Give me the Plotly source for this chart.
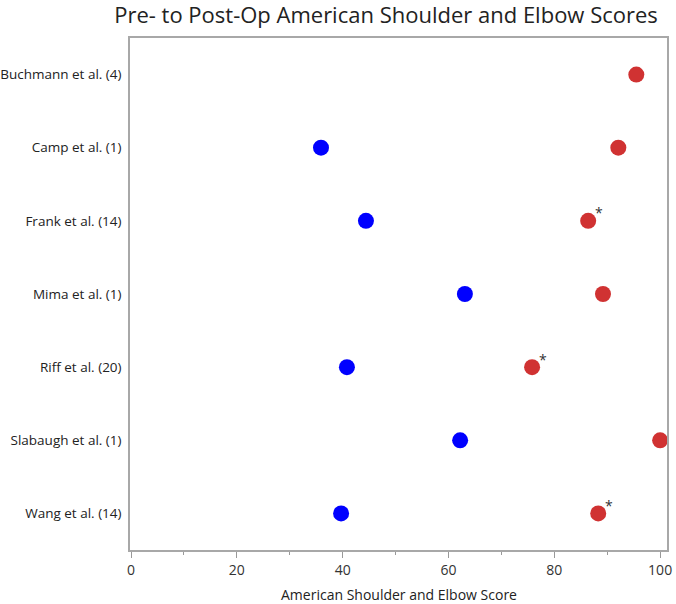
import plotly.graph_objects as go

studies = ["Buchmann et al. (4)", "Camp et al. (1)", "Frank et al. (14)", "Mima et al. (1)",
           "Riff et al. (20)", "Slabaugh et al. (1)", "Wang et al. (14)"]
pre_scores = [None, 35.9, 44.4, 63.1, 40.8, 62.2, 39.7]
post_scores = [95.5, 92.1, 86.4, 89.2, 75.8, 100.0, 88.3]
significant = [False, False, True, False, True, False, True]
x_ticks = [0, 20, 40, 60, 80, 100]

fig = go.Figure()
fig.add_trace(go.Scatter(x=pre_scores, y=studies, mode="markers", name="Pre-Op",
                         marker=dict(color="#0000ff", size=16), cliponaxis=False))
fig.add_trace(go.Scatter(x=post_scores, y=studies, mode="markers", name="Post-Op",
                         marker=dict(color="#d03232", size=16), cliponaxis=False))

for s, v, sig in zip(studies, post_scores, significant):
    if sig:
        fig.add_annotation(x=v, y=s, text="*", showarrow=False, xshift=11, yshift=8,
                           font=dict(size=14, color="#333333"))

fig.add_annotation(x=0.5, y=0, xref="paper", yref="paper", xanchor="center", yanchor="top",
                   yshift=-33, showarrow=False, text="American Shoulder and Elbow Score",
                   font=dict(size=14, color="#222222"))

fig.update_layout(
    width=676, height=604,
    margin=dict(l=130, r=9, t=38, b=54),
    plot_bgcolor="white", paper_bgcolor="white",
    showlegend=False,
    font=dict(family="Open Sans, Noto Sans, sans-serif", color="#222222", size=13),
    title=dict(text="Pre- to Post-Op American Shoulder and Elbow Scores",
               x=0.571, xanchor="center", y=0.988, yanchor="top",
               font=dict(size=22, color="#222222")),
)
fig.update_xaxes(range=[-0.2, 101.3], tickvals=x_ticks, ticks="outside", ticklen=6,
                 tickcolor="#999999", showgrid=False, zeroline=False, automargin=False,
                 showline=True, linecolor="#a8a8a8", linewidth=1.5, mirror=True,
                 minor=dict(tickvals=[10, 30, 50, 70, 90], ticks="outside", ticklen=3, tickcolor="#999999"),
                 tickfont=dict(size=14, color="#333333"))
fig.update_yaxes(categoryorder="array", categoryarray=studies, range=[6.5, -0.5],
                 showgrid=False, zeroline=False, showline=True, linecolor="#a8a8a8", automargin=False,
                 linewidth=1.5, mirror=True, ticks="", ticklabelstandoff=4,
                 tickfont=dict(size=13.5, color="#222222"))

fig.write_html("out.html", config={"displayModeBar": False},
               post_script="document.body.style.margin='0px';")
